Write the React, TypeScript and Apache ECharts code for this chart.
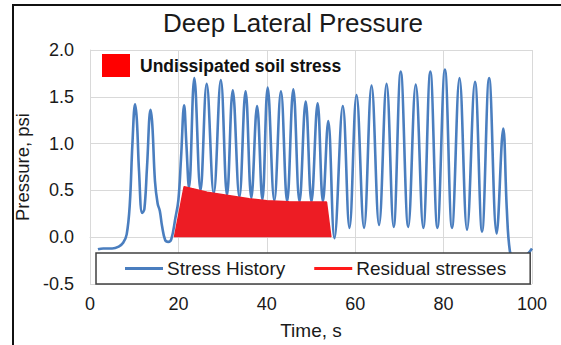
import React, { useEffect, useRef } from "react";
import * as echarts from "echarts";

const titleText = "Deep Lateral Pressure";
const xTicks = [0, 20, 40, 60, 80, 100];
const yTicks = [-0.5, 0, 0.5, 1.0, 1.5, 2.0];

// Stress History (time in s, pressure in psi)
const historyTime = [
  1.8, 3.0, 5.0, 6.5, 7.5, 8.3, 9.0, 9.6, 10.2, 10.6, 11.1, 11.8, 12.3, 12.9, 13.7, 14.1, 14.7,
  15.3, 15.8, 16.3, 17.0, 17.7, 18.4, 19.3, 20.0, 20.6, 21.3, 21.8, 22.4, 23.6, 25.0, 26.4, 28.0,
  29.6, 31.0, 32.3, 33.8, 35.2, 36.5, 37.8, 39.0, 40.2, 41.7, 43.2, 44.6, 46.0, 47.4, 48.8, 50.1,
  51.5, 52.7, 53.9, 55.3, 57.2, 58.7, 60.3, 62.0, 63.7, 65.4, 67.1, 68.7, 70.3, 72.0, 73.7, 75.4,
  77.0, 78.6, 80.3, 81.9, 83.6, 85.3, 87.1, 88.7, 90.3, 92.0, 93.5, 94.3, 95.0, 95.8, 98.0, 100.0,
];
const historyPsi = [
  -0.13, -0.12, -0.12, -0.1, -0.06, 0.03, 0.35, 1.0, 1.42, 1.25, 0.7, 0.26, 0.3, 0.75, 1.36, 1.2, 0.6,
  0.36, 0.28, 0.12, -0.03, -0.05, -0.02, 0.2, 0.4, 0.85, 1.41, 1.0, 0.53, 1.7, 0.5, 1.64, 0.47,
  1.68, 0.45, 1.57, 0.43, 1.56, 0.42, 1.4, 0.4, 1.6, 0.39, 1.56, 0.38, 1.58, 0.38, 1.45, 0.38,
  1.43, 0.38, 1.24, -0.01, 1.4, 0.1, 1.52, 0.1, 1.62, 0.13, 1.64, 0.11, 1.77, 0.11, 1.63, 0.1,
  1.77, 0.1, 1.79, 0.1, 1.7, 0.08, 1.66, 0.06, 1.7, 0.04, 1.16, 0.3, -0.15, -0.2, -0.2, -0.12,
];

// Residual (undissipated) stress envelope
const residualTime = [19.1, 21.3, 23.0, 26.5, 32.0, 36.0, 40.0, 45.0, 53.5, 54.5];
const residualPsi = [0, 0.54, 0.52, 0.48, 0.44, 0.41, 0.39, 0.38, 0.375, 0];

const FONT = "'Liberation Sans', Arial, sans-serif";

export default function App() {
  const ref = useRef<HTMLDivElement>(null);
  useEffect(() => {
    if (!ref.current) return;
    const chart = echarts.init(ref.current, null, { renderer: "svg" });
    const history = historyTime.map((t, i) => [t, historyPsi[i]]);
    const residual = residualTime.map((t, i) => [t, residualPsi[i]]);
    chart.setOption({
      animation: false,
      backgroundColor: "#ffffff",
      textStyle: { fontFamily: FONT },
      title: {
        text: titleText,
        left: 293,
        top: 10,
        padding: 0,
        textAlign: "center",
        textStyle: { fontFamily: FONT, fontSize: 26, fontWeight: "normal", color: "#1a1a1a" },
      },
      grid: { left: 90, right: 29, top: 50, bottom: 59, containLabel: false },
      legend: [
        {
          data: [
            { name: "Stress History", icon: "rect" },
            { name: "Residual stresses", icon: "rect" },
          ],
          left: 96,
          top: 253,
          itemWidth: 38,
          itemHeight: 3,
          itemGap: 29,
          padding: [6, 24, 6, 29],
          backgroundColor: "#ffffff",
          borderColor: "#404040",
          borderWidth: 1.5,
          selectedMode: false,
          textStyle: { fontFamily: FONT, fontSize: 19, color: "#1a1a1a", padding: [0, 0, 0, -1] },
          z: 10,
        },
        {
          data: [{ name: "Undissipated soil stress", icon: "rect" }],
          left: 102,
          top: 54,
          itemWidth: 28,
          itemHeight: 23,
          padding: 0,
          selectedMode: false,
          textStyle: {
            fontFamily: FONT,
            fontSize: 17.5,
            fontWeight: "bold",
            color: "#111111",
            padding: [0, 0, 0, 5],
          },
        },
      ],
      xAxis: {
        type: "value",
        min: 0,
        max: 100,
        interval: 20,
        name: "Time, s",
        nameLocation: "middle",
        nameGap: 37,
        nameTextStyle: { fontFamily: FONT, fontSize: 19, color: "#1a1a1a" },
        axisLine: { show: true, lineStyle: { color: "#d9d9d9", width: 1 } },
        axisTick: { show: false },
        axisLabel: {
          fontFamily: FONT,
          fontSize: 18,
          color: "#1a1a1a",
          margin: 11,
          formatter: (v: number) => (xTicks.includes(v) ? String(v) : ""),
        },
        splitLine: { show: true, lineStyle: { color: "#d9d9d9", width: 1 } },
      },
      yAxis: {
        type: "value",
        min: -0.5,
        max: 2.0,
        interval: 0.5,
        name: "Pressure, psi",
        nameLocation: "middle",
        nameGap: 45,
        nameTextStyle: { fontFamily: FONT, fontSize: 18.5, color: "#1a1a1a" },
        axisLine: { show: true, lineStyle: { color: "#d9d9d9", width: 1 } },
        axisTick: { show: false },
        axisLabel: {
          fontFamily: FONT,
          fontSize: 18,
          color: "#1a1a1a",
          margin: 16,
          formatter: (v: number) => (yTicks.some((y) => Math.abs(y - v) < 1e-9) ? v.toFixed(1) : ""),
        },
        splitLine: { show: true, lineStyle: { color: "#d9d9d9", width: 1 } },
      },
      graphic: [
        {
          type: "rect",
          shape: { x: 13, y: 5, width: 620, height: 420 },
          style: { fill: "none", stroke: "#111111", lineWidth: 2 },
          silent: true,
          z: 100,
        },
      ],
      series: [
        {
          name: "Stress History",
          type: "line",
          data: history,
          symbol: "none",
          smooth: 0.4,
          lineStyle: { color: "#4a7ebf", width: 2.6 },
          itemStyle: { color: "#4a7ebf" },
          z: 2,
        },
        {
          name: "Undissipated soil stress",
          type: "line",
          data: residual,
          symbol: "none",
          lineStyle: { width: 0, color: "#ff0000" },
          itemStyle: { color: "#ff0000" },
          areaStyle: { color: "#ed1c24", opacity: 1 },
          z: 3,
        },
        {
          name: "Residual stresses",
          type: "line",
          data: residual,
          symbol: "none",
          lineStyle: { width: 1.5, color: "#ed1c24" },
          itemStyle: { color: "#ff1a1a" },
          z: 3,
        },
      ],
    });
    return () => chart.dispose();
  }, []);
  return (
    <div
      ref={ref}
      style={{ position: "fixed", left: 0, top: 0, width: 561, height: 345 }}
    />
  );
}
